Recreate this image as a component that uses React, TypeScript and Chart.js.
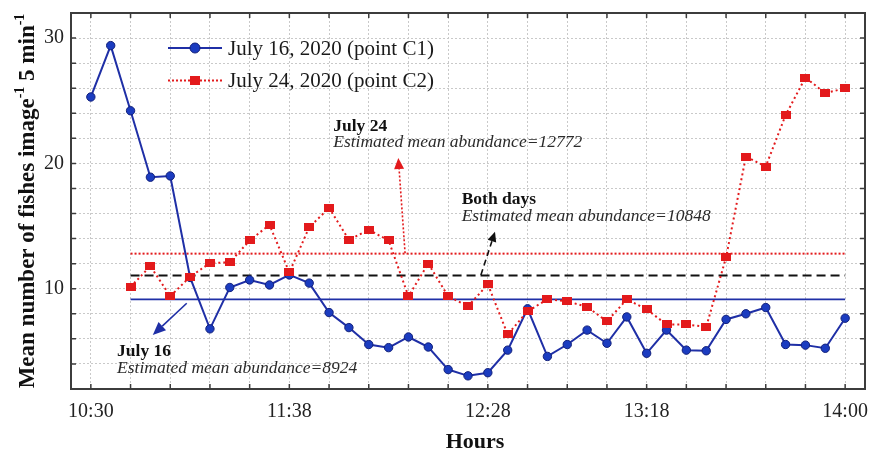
import React, { useEffect, useRef } from 'react';
import { Chart, registerables } from 'chart.js';

Chart.register(...registerables);

// ---------- data ----------
const tickIndices = [0, 10, 20, 28, 38];
const tickLabels = ['10:30', '11:38', '12:28', '13:18', '14:00'];

const july16Start = 0;
const july16 = [
  25.3, 29.4, 24.2, 18.9, 19.0, 10.9, 6.8, 10.1, 10.7, 10.3,
  11.1, 10.45, 8.1, 6.9, 5.55, 5.3, 6.15, 5.35, 3.55, 3.05,
  3.3, 5.1, 8.4, 4.6, 5.55, 6.7, 5.65, 7.75, 4.85, 6.7,
  5.1, 5.05, 7.55, 8.0, 8.5, 5.55, 5.5, 5.25, 7.65,
];

const july24Start = 2;
const july24 = [
  10.15, 11.8, 9.4, 10.95, 12.05, 12.1, 13.85, 15.1, 11.3, 14.9,
  16.45, 13.9, 14.7, 13.85, 9.4, 12.0, 9.4, 8.6, 10.35, 6.35,
  8.2, 9.15, 9.0, 8.55, 7.4, 9.15, 8.35, 7.15, 7.15, 6.95,
  12.5, 20.55, 19.75, 23.85, 26.85, 25.6, 26.0,
];

const meanJuly16 = 9.15;
const meanJuly24 = 12.8;
const meanBoth = 11.05;
const meanStart = 2;
const meanEnd = 38;

const seriesLabels = ['July 16, 2020 (point C1)', 'July 24, 2020 (point C2)'];

const annTitles = ['July 16', 'July 24', 'Both days'];
const annTexts = [
  'Estimated mean abundance=8924',
  'Estimated mean abundance=12772',
  'Estimated mean abundance=10848',
];

// annotation anchors (data units)
const annX = [1.32, 12.21, 18.68];
const annTitleY = [4.63, 22.61, 16.76];
const annTextY = [3.28, 21.31, 15.4];
const arrowFrom = [[4.83, 8.84], [15.83, 12.83], [19.65, 11.1]];
const arrowTo = [[3.12, 6.31], [15.49, 20.43], [20.36, 14.55]];

// ---------- styles ----------
const FONT = '"Liberation Serif", "Times New Roman", serif';
const BLUE = '#1f2fa6';
const BLUE_PT = '#1b3cc0';
const RED = '#e31a1c';
const GRID = '#c9c9c9';
const FRAME = '#3c3c3c';

function makeRect(w: number, h: number, color: string) {
  const c = document.createElement('canvas');
  c.width = w;
  c.height = h;
  const g = c.getContext('2d')!;
  g.fillStyle = color;
  g.fillRect(0, 0, w, h);
  return c;
}

function drawArrow(ctx: CanvasRenderingContext2D, x1: number, y1: number, x2: number, y2: number,
  color: string, dash: number[], headLen: number, headW: number) {
  const ang = Math.atan2(y2 - y1, x2 - x1);
  const bx = x2 - Math.cos(ang) * headLen;
  const by = y2 - Math.sin(ang) * headLen;
  ctx.save();
  ctx.strokeStyle = color;
  ctx.fillStyle = color;
  ctx.lineWidth = 1.6;
  ctx.setLineDash(dash);
  ctx.beginPath();
  ctx.moveTo(x1, y1);
  ctx.lineTo(bx, by);
  ctx.stroke();
  ctx.setLineDash([]);
  const px = -Math.sin(ang) * headW / 2;
  const py = Math.cos(ang) * headW / 2;
  ctx.beginPath();
  ctx.moveTo(x2, y2);
  ctx.lineTo(bx + px, by + py);
  ctx.lineTo(bx - px, by - py);
  ctx.closePath();
  ctx.fill();
  ctx.restore();
}

const decor = {
  id: 'decor',
  afterDraw(chart: any) {
    const { ctx, chartArea: a, scales } = chart;
    const xs = scales.x;
    const ys = scales.y;
    ctx.save();

    // frame
    ctx.strokeStyle = FRAME;
    ctx.lineWidth = 2;
    ctx.setLineDash([]);
    ctx.strokeRect(a.left, a.top, a.right - a.left, a.bottom - a.top);

    // inward ticks
    ctx.lineWidth = 1.5;
    ctx.beginPath();
    xs.ticks.forEach((t: any) => {
      const p = xs.getPixelForValue(t.value);
      ctx.moveTo(p, a.bottom); ctx.lineTo(p, a.bottom - 5);
      ctx.moveTo(p, a.top); ctx.lineTo(p, a.top + 5);
    });
    ys.ticks.forEach((t: any) => {
      const p = ys.getPixelForValue(t.value);
      ctx.moveTo(a.left, p); ctx.lineTo(a.left + 5, p);
      ctx.moveTo(a.right, p); ctx.lineTo(a.right - 5, p);
    });
    ctx.stroke();

    // arrows
    const arrowColors = [BLUE, RED, '#111111'];
    const arrowDash = [[], [2, 2], [6, 4]];
    const heads = [[13, 11], [11, 10], [10, 9]];
    for (let i = 0; i < arrowFrom.length; i++) {
      drawArrow(ctx,
        xs.getPixelForValue(arrowFrom[i][0]), ys.getPixelForValue(arrowFrom[i][1]),
        xs.getPixelForValue(arrowTo[i][0]), ys.getPixelForValue(arrowTo[i][1]),
        arrowColors[i], arrowDash[i], heads[i][0], heads[i][1]);
    }

    // annotation texts
    ctx.textAlign = 'left';
    ctx.textBaseline = 'alphabetic';
    for (let i = 0; i < annTitles.length; i++) {
      const x = xs.getPixelForValue(annX[i]);
      ctx.fillStyle = '#111111';
      ctx.font = `bold 17.5px ${FONT}`;
      ctx.fillText(annTitles[i], x, ys.getPixelForValue(annTitleY[i]));
      ctx.fillStyle = '#2a2a2a';
      ctx.font = `italic 17.5px ${FONT}`;
      ctx.fillText(annTexts[i], x, ys.getPixelForValue(annTextY[i]));
    }

    // legend
    const lx1 = 168, lx2 = 222, lmid = 195, ltx = 228;
    const ly = [48, 80.5];
    ctx.lineWidth = 2;
    ctx.strokeStyle = BLUE;
    ctx.beginPath(); ctx.moveTo(lx1, ly[0]); ctx.lineTo(lx2, ly[0]); ctx.stroke();
    ctx.fillStyle = BLUE_PT;
    ctx.beginPath(); ctx.arc(lmid, ly[0], 5, 0, Math.PI * 2); ctx.fill();
    ctx.strokeStyle = '#12207a'; ctx.lineWidth = 1; ctx.stroke();
    ctx.strokeStyle = RED; ctx.lineWidth = 2; ctx.setLineDash([2, 2]);
    ctx.beginPath(); ctx.moveTo(lx1, ly[1]); ctx.lineTo(lx2, ly[1]); ctx.stroke();
    ctx.setLineDash([]);
    ctx.fillStyle = RED;
    ctx.fillRect(lmid - 5, ly[1] - 4.5, 10, 9);
    ctx.fillStyle = '#1a1a1a';
    ctx.font = `21px ${FONT}`;
    ctx.textBaseline = 'middle';
    ctx.fillText(seriesLabels[0], ltx, ly[0] + 1);
    ctx.fillText(seriesLabels[1], ltx, ly[1] + 1);

    // x title
    ctx.textAlign = 'center';
    ctx.textBaseline = 'alphabetic';
    ctx.font = `bold 22px ${FONT}`;
    ctx.fillStyle = '#111111';
    ctx.fillText('Hours', 475, 448);

    // y title with superscripts
    const parts: [string, boolean][] = [
      ['Mean number of fishes image', false], ['-1', true], [' 5 min', false], ['-1', true],
    ];
    const big = `bold 23px ${FONT}`;
    const small = `bold 14px ${FONT}`;
    let total = 0;
    parts.forEach(([t, sup]) => { ctx.font = sup ? small : big; total += ctx.measureText(t).width; });
    ctx.translate(34, 201);
    ctx.rotate(-Math.PI / 2);
    ctx.textAlign = 'left';
    let cx = -total / 2;
    parts.forEach(([t, sup]) => {
      ctx.font = sup ? small : big;
      ctx.fillText(t, cx, sup ? -10 : 0);
      cx += ctx.measureText(t).width;
    });
    ctx.restore();
  },
};

export default function App() {
  const ref = useRef<HTMLCanvasElement | null>(null);

  useEffect(() => {
    if (!ref.current) return;
    const pts16 = july16.map((v, i) => ({ x: july16Start + i, y: v }));
    const pts24 = july24.map((v, i) => ({ x: july24Start + i, y: v }));
    const hline = (v: number) => [{ x: meanStart, y: v }, { x: meanEnd, y: v }];

    const chart = new Chart(ref.current, {
      type: 'line',
      data: {
        datasets: [
          {
            label: seriesLabels[0], data: pts16, borderColor: BLUE, borderWidth: 2,
            pointStyle: 'circle', pointRadius: 4.2, pointBackgroundColor: BLUE_PT,
            pointBorderColor: '#12207a', pointBorderWidth: 1, tension: 0, order: 1,
          },
          {
            label: seriesLabels[1], data: pts24, borderColor: RED, borderWidth: 2,
            borderDash: [2, 3], pointStyle: makeRect(10, 8, RED) as any, pointRadius: 5,
            tension: 0, order: 0,
          },
          {
            label: 'mean16', data: hline(meanJuly16), borderColor: BLUE, borderWidth: 1.6,
            pointRadius: 0, order: 3,
          },
          {
            label: 'mean24', data: hline(meanJuly24), borderColor: RED, borderWidth: 2,
            borderDash: [2, 2], pointRadius: 0, order: 3,
          },
          {
            label: 'meanBoth', data: hline(meanBoth), borderColor: '#111111', borderWidth: 2,
            borderDash: [9, 5], pointRadius: 0, order: 3,
          },
        ],
      },
      options: {
        animation: false,
        responsive: false,
        devicePixelRatio: 1,
        layout: { padding: { top: 13, right: 9, left: 0, bottom: 0 } },
        plugins: { legend: { display: false }, tooltip: { enabled: false } },
        scales: {
          x: {
            type: 'linear', min: -1, max: 39,
            afterBuildTicks: (s: any) => {
              const t = [];
              for (let v = 0; v <= 38; v += 2) t.push({ value: v });
              s.ticks = t;
            },
            afterFit: (s: any) => { s.height = 63; s.paddingLeft = 0; s.paddingRight = 0; },
            ticks: {
              autoSkip: false, maxRotation: 0, minRotation: 0, padding: 11,
              color: '#222', font: { family: FONT, size: 20 },
              callback: (v: any) => {
                const k = tickIndices.indexOf(Number(v));
                return k >= 0 ? tickLabels[k] : '';
              },
            },
            grid: { color: GRID, lineWidth: 1, drawTicks: false },
            border: { display: false, dash: [2, 2] },
          },
          y: {
            type: 'linear', min: 2, max: 32,
            afterBuildTicks: (s: any) => {
              const t = [];
              for (let v = 2; v <= 32; v += 2) t.push({ value: v });
              s.ticks = t;
            },
            afterFit: (s: any) => { s.width = 71; s.paddingTop = 0; s.paddingBottom = 0; },
            ticks: {
              autoSkip: false, padding: 7, color: '#222', font: { family: FONT, size: 20 },
              callback: (v: any) => (Number(v) % 10 === 0 ? String(v) : ''),
            },
            grid: { color: GRID, lineWidth: 1, drawTicks: false },
            border: { display: false, dash: [2, 2] },
          },
        },
      },
      plugins: [decor],
    });
    return () => chart.destroy();
  }, []);

  return (
    <div style={{ position: 'absolute', left: 0, top: 0, width: 874, height: 452, background: '#fff' }}>
      <canvas ref={ref} width={874} height={452} style={{ display: 'block' }} />
    </div>
  );
}
